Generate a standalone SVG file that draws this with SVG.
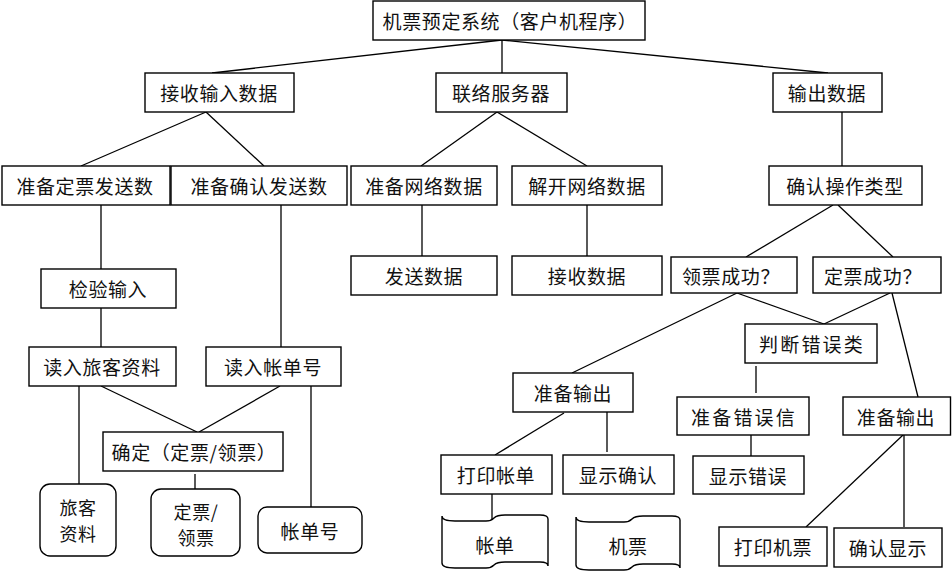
<svg xmlns="http://www.w3.org/2000/svg" width="952" height="573" viewBox="0 0 952 573">
<style>
.box, path.doc { fill: #fff; stroke: #000; stroke-width: 1.4; }
#connectors line { stroke: #000; stroke-width: 1.3; }
text { font-family: "Noto Sans CJK SC", "Noto Sans CJK TC", sans-serif; font-size: 19px; letter-spacing: 0.6px; fill: #111; text-anchor: middle; dominant-baseline: central; }
.sp { letter-spacing: 2.2px; }
.two { font-size: 18px; }
</style>
<rect x="0" y="0" width="952" height="573" fill="#fff"/>
<g id="connectors">
<line x1="502" y1="40" x2="212" y2="73"/>
<line x1="502" y1="40" x2="502" y2="73"/>
<line x1="502" y1="40" x2="828" y2="73"/>
<line x1="206" y1="112" x2="81" y2="166"/>
<line x1="206" y1="112" x2="264" y2="166"/>
<line x1="497" y1="112" x2="421" y2="166"/>
<line x1="497" y1="112" x2="587" y2="166"/>
<line x1="842" y1="112" x2="842" y2="166"/>
<line x1="101" y1="205" x2="101" y2="269"/>
<line x1="281" y1="205" x2="281" y2="347"/>
<line x1="101" y1="308" x2="101" y2="347"/>
<line x1="422" y1="205" x2="422" y2="256"/>
<line x1="587" y1="205" x2="587" y2="256"/>
<line x1="833" y1="205" x2="746" y2="257"/>
<line x1="838" y1="205" x2="893" y2="257"/>
<line x1="101" y1="386" x2="197" y2="432"/>
<line x1="280" y1="386" x2="199" y2="432"/>
<line x1="79" y1="386" x2="79" y2="484"/>
<line x1="195" y1="474" x2="195" y2="489"/>
<line x1="311" y1="386" x2="311" y2="507"/>
<line x1="737" y1="293" x2="572" y2="373"/>
<line x1="737" y1="293" x2="824" y2="324"/>
<line x1="890" y1="293" x2="824" y2="324"/>
<line x1="892" y1="293" x2="918" y2="397"/>
<line x1="756" y1="366" x2="756" y2="393"/>
<line x1="751" y1="435" x2="751" y2="456"/>
<line x1="564" y1="413" x2="495" y2="455"/>
<line x1="607" y1="412" x2="607" y2="452"/>
<line x1="492" y1="494" x2="492" y2="519"/>
<line x1="903" y1="435" x2="806" y2="527"/>
<line x1="904" y1="435" x2="904" y2="527"/>
</g>
<g id="n0"><rect class="box" x="373" y="1" width="272" height="39"/><text x="510" y="20.5">机票预定系统（客户机程序）</text></g>
<g id="n1"><rect class="box" x="145" y="73" width="149" height="39"/><text x="219" y="92.5">接收输入数据</text></g>
<g id="n2"><rect class="box" x="436" y="73" width="131" height="39"/><text x="501" y="92.5">联络服务器</text></g>
<g id="n3"><rect class="box" x="773" y="73" width="109" height="39"/><text x="827" y="92.5">输出数据</text></g>
<g id="n4"><rect class="box" x="2" y="166" width="168" height="39"/><text x="85" y="185.5">准备定票发送数</text></g>
<g id="n5"><rect class="box" x="171" y="166" width="176" height="39"/><text x="259" y="185.5">准备确认发送数</text></g>
<g id="n6"><rect class="box" x="351" y="166" width="146" height="39"/><text x="424" y="185.5">准备网络数据</text></g>
<g id="n7"><rect class="box" x="512" y="166" width="150" height="39"/><text x="587" y="185.5">解开网络数据</text></g>
<g id="n8"><rect class="box" x="769" y="166" width="153" height="39"/><text x="845" y="185.5">确认操作类型</text></g>
<g id="n9"><rect class="box" x="41" y="269" width="135" height="39"/><text x="108" y="288.5">检验输入</text></g>
<g id="n10"><rect class="box" x="29" y="347" width="147" height="39"/><text x="102" y="366.5">读入旅客资料</text></g>
<g id="n11"><rect class="box" x="206" y="347" width="135" height="39"/><text x="273" y="366.5">读入帐单号</text></g>
<g id="n12"><rect class="box" x="103" y="432" width="180" height="39"/><text x="194" y="451.5">确定（定票/领票）</text></g>
<g id="n13"><rect class="box" x="40" y="484" width="76" height="72" rx="10"/><text class="two" x="78" y="507">旅客</text><text class="two" x="78" y="533">资料</text></g>
<g id="n14"><rect class="box" x="151" y="489" width="89" height="67" rx="10"/><text class="two" x="196" y="510.5">定票/</text><text class="two" x="196" y="537">领票</text></g>
<g id="n15"><rect class="box" x="258" y="507" width="104" height="46" rx="9"/><text x="310" y="530">帐单号</text></g>
<g id="n16"><rect class="box" x="351" y="256" width="146" height="39"/><text x="424" y="275.5">发送数据</text></g>
<g id="n17"><rect class="box" x="512" y="256" width="150" height="39"/><text x="587" y="275.5">接收数据</text></g>
<g id="n18"><rect class="box" x="671" y="257" width="126" height="36"/><text x="731" y="275">领票成功？</text></g>
<g id="n19"><rect class="box" x="813" y="257" width="128" height="36"/><text x="873" y="275">定票成功？</text></g>
<g id="n20"><rect class="box" x="745" y="324" width="132" height="39"/><text class="sp" x="812" y="343.5">判断错误类</text></g>
<g id="n21"><rect class="box" x="513" y="373" width="120" height="39"/><text x="573" y="392.5">准备输出</text></g>
<g id="n22"><rect class="box" x="677" y="397" width="132" height="38"/><text class="sp" x="744" y="416">准备错误信</text></g>
<g id="n23"><rect class="box" x="843" y="397" width="107.5" height="38"/><text x="896" y="416">准备输出</text></g>
<g id="n24"><rect class="box" x="441" y="455" width="111" height="39"/><text x="496" y="474.5">打印帐单</text></g>
<g id="n25"><rect class="box" x="563" y="455" width="111" height="39"/><text x="618" y="474.5">显示确认</text></g>
<g id="n26"><rect class="box" x="693" y="456" width="111" height="38"/><text x="748" y="475">显示错误</text></g>
<g id="n27"><path class="doc" d="M442,516 Q442,521 455,521 L486,521 Q491,521 494,518 Q497,515 505,515 L540,515 Q548,515 548,519 L548,566 Q548,562 540,562 L505,562 Q497,562 494,565 Q491,568 486,568 L455,568 Q442,568 442,563 Z"/><text x="495" y="544.5">帐单</text></g>
<g id="n28"><path class="doc" d="M576,517 Q576,522 589,522 L624,522 Q629,522 632,519 Q635,516 643,516 L672,516 Q680,516 680,520 L680,568 Q680,564 672,564 L643,564 Q635,564 632,567 Q629,570 624,570 L589,570 Q576,570 576,565 Z"/><text x="628" y="545">机票</text></g>
<g id="n29"><rect class="box" x="719" y="527" width="108" height="39"/><text x="773" y="546.5">打印机票</text></g>
<g id="n30"><rect class="box" x="834" y="528" width="108" height="39"/><text x="888" y="547.5">确认显示</text></g>
</svg>
